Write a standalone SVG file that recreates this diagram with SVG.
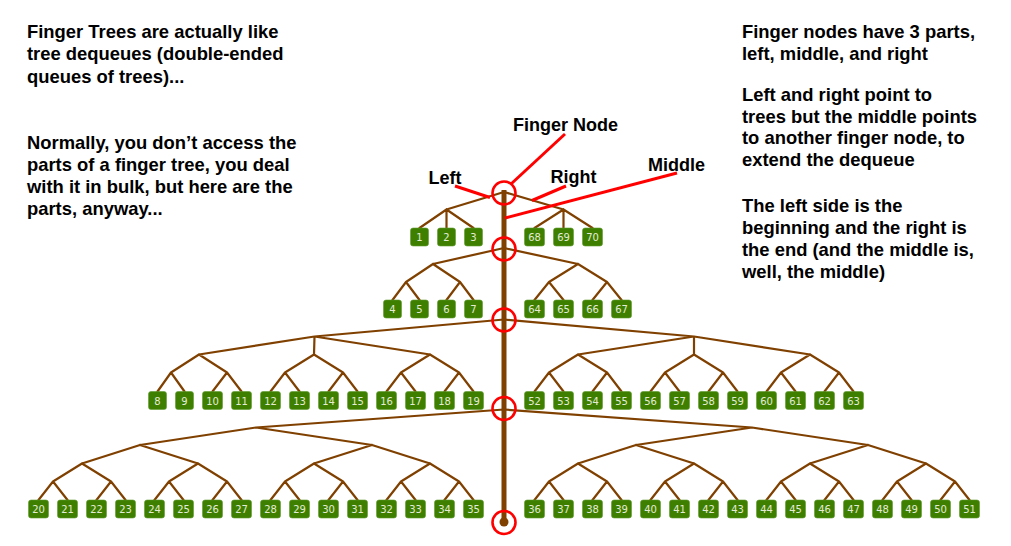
<svg xmlns="http://www.w3.org/2000/svg" width="1011" height="546" viewBox="0 0 1011 546">
<style>
.txt{font-family:"Liberation Sans",Arial,sans-serif;font-weight:bold;font-size:18.4px;fill:#000}
.lbl{font-family:"Liberation Sans",Arial,sans-serif;font-weight:bold;font-size:18px;fill:#000}
.edge{fill:none;stroke:#7f4000;stroke-width:2.2;stroke-linecap:round;stroke-linejoin:round}
.spine{stroke:#7f4000;stroke-width:5}
.leaf{fill:#3f7f00;stroke:#5f9a30;stroke-width:0.6}
.lt{font-family:"DejaVu Sans",sans-serif;font-size:10px;fill:#e4ecd8;text-anchor:middle}
.ring{fill:none;stroke:#ff0000;stroke-width:2.6}
.ptr{stroke:#ff0000;stroke-width:3;stroke-linecap:butt}
</style>
<rect width="1011" height="546" fill="#ffffff"/>

<g id="text-left">
<text class="txt" x="27" y="37.5">Finger Trees are actually like</text>
<text class="txt" x="27" y="60">tree dequeues (double-ended</text>
<text class="txt" x="27" y="82.5">queues of trees)...</text>
<text class="txt" x="27" y="149">Normally, you don’t access the</text>
<text class="txt" x="27" y="171">parts of a finger tree, you deal</text>
<text class="txt" x="27" y="193">with it in bulk, but here are the</text>
<text class="txt" x="27" y="215">parts, anyway...</text>
</g>
<g id="text-right">
<text class="txt" x="742" y="38">Finger nodes have 3 parts,</text>
<text class="txt" x="742" y="60">left, middle, and right</text>
<text class="txt" x="742" y="101">Left and right point to</text>
<text class="txt" x="742" y="122.5">trees but the middle points</text>
<text class="txt" x="742" y="144">to another finger node, to</text>
<text class="txt" x="742" y="165.5">extend the dequeue</text>
<text class="txt" x="742" y="211.5">The left side is the</text>
<text class="txt" x="742" y="233.5">beginning and the right is</text>
<text class="txt" x="742" y="255.5">the end (and the middle is,</text>
<text class="txt" x="742" y="277.5">well, the middle)</text>
</g>

<g id="connectors">
<line class="spine" x1="504" y1="190" x2="504" y2="522"/>
<circle cx="504" cy="522" r="4.5" fill="#7f4000"/>
<path class="edge" d="M504,192L446.5,209.5M504,192L563.5,209.5
M446.5,209.5L419.5,228M446.5,209.5L446.5,228M446.5,209.5L473.5,228
M563.5,209.5L534.5,228M563.5,209.5L563.5,228M563.5,209.5L592.5,228"/>
<path class="edge" d="M504,248L433,264M504,248L578,264
M433,264L406,282M433,264L460,282M406,282L392.5,300M406,282L419.5,300M460,282L446.5,300M460,282L473.5,300
M578,264L549,282M578,264L607,282M549,282L534.5,300M549,282L563.5,300M607,282L592.5,300M607,282L621.5,300"/>
<path class="edge" d="M504,319.5L314.5,336.5M504,319.5L694,336.5
M314.5,336.5L199,354.5M314.5,336.5L314,354.5M314.5,336.5L430,354.5
M199,354.5L171,372.5M199,354.5L227,372.5M314,354.5L285,372.5M314,354.5L343,372.5M430,354.5L401,372.5M430,354.5L459,372.5
M171,372.5L157.5,391.5M171,372.5L184.5,391.5M227,372.5L212.5,391.5M227,372.5L241.5,391.5
M285,372.5L270.5,391.5M285,372.5L299.5,391.5M343,372.5L328.5,391.5M343,372.5L357.5,391.5
M401,372.5L386.5,391.5M401,372.5L415.5,391.5M459,372.5L444.5,391.5M459,372.5L473.5,391.5
M694,336.5L578,354.5M694,336.5L694,354.5M694,336.5L810,354.5
M578,354.5L549,372.5M578,354.5L607,372.5M694,354.5L665,372.5M694,354.5L723,372.5M810,354.5L781,372.5M810,354.5L839,372.5
M549,372.5L534.5,391.5M549,372.5L563.5,391.5M607,372.5L592.5,391.5M607,372.5L621.5,391.5
M665,372.5L650.5,391.5M665,372.5L679.5,391.5M723,372.5L708.5,391.5M723,372.5L737.5,391.5
M781,372.5L766.5,391.5M781,372.5L795.5,391.5M839,372.5L824.5,391.5M839,372.5L853.5,391.5"/>
<path class="edge" d="M504,409.5L256,427.5M504,409.5L752,427.5
M256,427.5L140,445M256,427.5L372,445
M140,445L82,463.5M140,445L198,463.5M372,445L314,463.5M372,445L430,463.5
M82,463.5L53,481.5M82,463.5L111,481.5M198,463.5L169,481.5M198,463.5L227,481.5
M314,463.5L285,481.5M314,463.5L343,481.5M430,463.5L401,481.5M430,463.5L459,481.5
M53,481.5L38.5,500M53,481.5L67.5,500M111,481.5L96.5,500M111,481.5L125.5,500
M169,481.5L154.5,500M169,481.5L183.5,500M227,481.5L212.5,500M227,481.5L241.5,500
M285,481.5L270.5,500M285,481.5L299.5,500M343,481.5L328.5,500M343,481.5L357.5,500
M401,481.5L386.5,500M401,481.5L415.5,500M459,481.5L444.5,500M459,481.5L473.5,500
M752,427.5L636,445M752,427.5L868,445
M636,445L578,463.5M636,445L694,463.5M868,445L810,463.5M868,445L926,463.5
M578,463.5L549,481.5M578,463.5L607,481.5M694,463.5L665,481.5M694,463.5L723,481.5
M810,463.5L781,481.5M810,463.5L839,481.5M926,463.5L897,481.5M926,463.5L955,481.5
M549,481.5L534.5,500M549,481.5L563.5,500M607,481.5L592.5,500M607,481.5L621.5,500
M665,481.5L650.5,500M665,481.5L679.5,500M723,481.5L708.5,500M723,481.5L737.5,500
M781,481.5L766.5,500M781,481.5L795.5,500M839,481.5L824.5,500M839,481.5L853.5,500
M897,481.5L882.5,500M897,481.5L911.5,500M955,481.5L940.5,500M955,481.5L969.5,500"/>
</g>

<g id="leaves-1">
<g id="n1"><rect class="leaf" x="410.5" y="228" width="18" height="18" rx="2.5"/><text class="lt" x="419.5" y="241">1</text></g>
<g id="n2"><rect class="leaf" x="437.5" y="228" width="18" height="18" rx="2.5"/><text class="lt" x="446.5" y="241">2</text></g>
<g id="n3"><rect class="leaf" x="464.5" y="228" width="18" height="18" rx="2.5"/><text class="lt" x="473.5" y="241">3</text></g>
<g id="n68"><rect class="leaf" x="524.5" y="228" width="20" height="18" rx="2.5"/><text class="lt" x="534.5" y="241">68</text></g>
<g id="n69"><rect class="leaf" x="553.5" y="228" width="20" height="18" rx="2.5"/><text class="lt" x="563.5" y="241">69</text></g>
<g id="n70"><rect class="leaf" x="582.5" y="228" width="20" height="18" rx="2.5"/><text class="lt" x="592.5" y="241">70</text></g>
</g>
<g id="leaves-2">
<g id="n4"><rect class="leaf" x="383.5" y="300" width="18" height="18" rx="2.5"/><text class="lt" x="392.5" y="313">4</text></g>
<g id="n5"><rect class="leaf" x="410.5" y="300" width="18" height="18" rx="2.5"/><text class="lt" x="419.5" y="313">5</text></g>
<g id="n6"><rect class="leaf" x="437.5" y="300" width="18" height="18" rx="2.5"/><text class="lt" x="446.5" y="313">6</text></g>
<g id="n7"><rect class="leaf" x="464.5" y="300" width="18" height="18" rx="2.5"/><text class="lt" x="473.5" y="313">7</text></g>
<g id="n64"><rect class="leaf" x="524.5" y="300" width="20" height="18" rx="2.5"/><text class="lt" x="534.5" y="313">64</text></g>
<g id="n65"><rect class="leaf" x="553.5" y="300" width="20" height="18" rx="2.5"/><text class="lt" x="563.5" y="313">65</text></g>
<g id="n66"><rect class="leaf" x="582.5" y="300" width="20" height="18" rx="2.5"/><text class="lt" x="592.5" y="313">66</text></g>
<g id="n67"><rect class="leaf" x="611.5" y="300" width="20" height="18" rx="2.5"/><text class="lt" x="621.5" y="313">67</text></g>
</g>
<g id="leaves-3">
<g id="n8"><rect class="leaf" x="148.5" y="391.5" width="18" height="18" rx="2.5"/><text class="lt" x="157.5" y="404.5">8</text></g>
<g id="n9"><rect class="leaf" x="175.5" y="391.5" width="18" height="18" rx="2.5"/><text class="lt" x="184.5" y="404.5">9</text></g>
<g id="n10"><rect class="leaf" x="202.5" y="391.5" width="20" height="18" rx="2.5"/><text class="lt" x="212.5" y="404.5">10</text></g>
<g id="n11"><rect class="leaf" x="231.5" y="391.5" width="20" height="18" rx="2.5"/><text class="lt" x="241.5" y="404.5">11</text></g>
<g id="n12"><rect class="leaf" x="260.5" y="391.5" width="20" height="18" rx="2.5"/><text class="lt" x="270.5" y="404.5">12</text></g>
<g id="n13"><rect class="leaf" x="289.5" y="391.5" width="20" height="18" rx="2.5"/><text class="lt" x="299.5" y="404.5">13</text></g>
<g id="n14"><rect class="leaf" x="318.5" y="391.5" width="20" height="18" rx="2.5"/><text class="lt" x="328.5" y="404.5">14</text></g>
<g id="n15"><rect class="leaf" x="347.5" y="391.5" width="20" height="18" rx="2.5"/><text class="lt" x="357.5" y="404.5">15</text></g>
<g id="n16"><rect class="leaf" x="376.5" y="391.5" width="20" height="18" rx="2.5"/><text class="lt" x="386.5" y="404.5">16</text></g>
<g id="n17"><rect class="leaf" x="405.5" y="391.5" width="20" height="18" rx="2.5"/><text class="lt" x="415.5" y="404.5">17</text></g>
<g id="n18"><rect class="leaf" x="434.5" y="391.5" width="20" height="18" rx="2.5"/><text class="lt" x="444.5" y="404.5">18</text></g>
<g id="n19"><rect class="leaf" x="463.5" y="391.5" width="20" height="18" rx="2.5"/><text class="lt" x="473.5" y="404.5">19</text></g>
<g id="n52"><rect class="leaf" x="524.5" y="391.5" width="20" height="18" rx="2.5"/><text class="lt" x="534.5" y="404.5">52</text></g>
<g id="n53"><rect class="leaf" x="553.5" y="391.5" width="20" height="18" rx="2.5"/><text class="lt" x="563.5" y="404.5">53</text></g>
<g id="n54"><rect class="leaf" x="582.5" y="391.5" width="20" height="18" rx="2.5"/><text class="lt" x="592.5" y="404.5">54</text></g>
<g id="n55"><rect class="leaf" x="611.5" y="391.5" width="20" height="18" rx="2.5"/><text class="lt" x="621.5" y="404.5">55</text></g>
<g id="n56"><rect class="leaf" x="640.5" y="391.5" width="20" height="18" rx="2.5"/><text class="lt" x="650.5" y="404.5">56</text></g>
<g id="n57"><rect class="leaf" x="669.5" y="391.5" width="20" height="18" rx="2.5"/><text class="lt" x="679.5" y="404.5">57</text></g>
<g id="n58"><rect class="leaf" x="698.5" y="391.5" width="20" height="18" rx="2.5"/><text class="lt" x="708.5" y="404.5">58</text></g>
<g id="n59"><rect class="leaf" x="727.5" y="391.5" width="20" height="18" rx="2.5"/><text class="lt" x="737.5" y="404.5">59</text></g>
<g id="n60"><rect class="leaf" x="756.5" y="391.5" width="20" height="18" rx="2.5"/><text class="lt" x="766.5" y="404.5">60</text></g>
<g id="n61"><rect class="leaf" x="785.5" y="391.5" width="20" height="18" rx="2.5"/><text class="lt" x="795.5" y="404.5">61</text></g>
<g id="n62"><rect class="leaf" x="814.5" y="391.5" width="20" height="18" rx="2.5"/><text class="lt" x="824.5" y="404.5">62</text></g>
<g id="n63"><rect class="leaf" x="843.5" y="391.5" width="20" height="18" rx="2.5"/><text class="lt" x="853.5" y="404.5">63</text></g>
</g>
<g id="leaves-4">
<g id="n20"><rect class="leaf" x="28.5" y="500" width="20" height="18" rx="2.5"/><text class="lt" x="38.5" y="513">20</text></g>
<g id="n21"><rect class="leaf" x="57.5" y="500" width="20" height="18" rx="2.5"/><text class="lt" x="67.5" y="513">21</text></g>
<g id="n22"><rect class="leaf" x="86.5" y="500" width="20" height="18" rx="2.5"/><text class="lt" x="96.5" y="513">22</text></g>
<g id="n23"><rect class="leaf" x="115.5" y="500" width="20" height="18" rx="2.5"/><text class="lt" x="125.5" y="513">23</text></g>
<g id="n24"><rect class="leaf" x="144.5" y="500" width="20" height="18" rx="2.5"/><text class="lt" x="154.5" y="513">24</text></g>
<g id="n25"><rect class="leaf" x="173.5" y="500" width="20" height="18" rx="2.5"/><text class="lt" x="183.5" y="513">25</text></g>
<g id="n26"><rect class="leaf" x="202.5" y="500" width="20" height="18" rx="2.5"/><text class="lt" x="212.5" y="513">26</text></g>
<g id="n27"><rect class="leaf" x="231.5" y="500" width="20" height="18" rx="2.5"/><text class="lt" x="241.5" y="513">27</text></g>
<g id="n28"><rect class="leaf" x="260.5" y="500" width="20" height="18" rx="2.5"/><text class="lt" x="270.5" y="513">28</text></g>
<g id="n29"><rect class="leaf" x="289.5" y="500" width="20" height="18" rx="2.5"/><text class="lt" x="299.5" y="513">29</text></g>
<g id="n30"><rect class="leaf" x="318.5" y="500" width="20" height="18" rx="2.5"/><text class="lt" x="328.5" y="513">30</text></g>
<g id="n31"><rect class="leaf" x="347.5" y="500" width="20" height="18" rx="2.5"/><text class="lt" x="357.5" y="513">31</text></g>
<g id="n32"><rect class="leaf" x="376.5" y="500" width="20" height="18" rx="2.5"/><text class="lt" x="386.5" y="513">32</text></g>
<g id="n33"><rect class="leaf" x="405.5" y="500" width="20" height="18" rx="2.5"/><text class="lt" x="415.5" y="513">33</text></g>
<g id="n34"><rect class="leaf" x="434.5" y="500" width="20" height="18" rx="2.5"/><text class="lt" x="444.5" y="513">34</text></g>
<g id="n35"><rect class="leaf" x="463.5" y="500" width="20" height="18" rx="2.5"/><text class="lt" x="473.5" y="513">35</text></g>
<g id="n36"><rect class="leaf" x="524.5" y="500" width="20" height="18" rx="2.5"/><text class="lt" x="534.5" y="513">36</text></g>
<g id="n37"><rect class="leaf" x="553.5" y="500" width="20" height="18" rx="2.5"/><text class="lt" x="563.5" y="513">37</text></g>
<g id="n38"><rect class="leaf" x="582.5" y="500" width="20" height="18" rx="2.5"/><text class="lt" x="592.5" y="513">38</text></g>
<g id="n39"><rect class="leaf" x="611.5" y="500" width="20" height="18" rx="2.5"/><text class="lt" x="621.5" y="513">39</text></g>
<g id="n40"><rect class="leaf" x="640.5" y="500" width="20" height="18" rx="2.5"/><text class="lt" x="650.5" y="513">40</text></g>
<g id="n41"><rect class="leaf" x="669.5" y="500" width="20" height="18" rx="2.5"/><text class="lt" x="679.5" y="513">41</text></g>
<g id="n42"><rect class="leaf" x="698.5" y="500" width="20" height="18" rx="2.5"/><text class="lt" x="708.5" y="513">42</text></g>
<g id="n43"><rect class="leaf" x="727.5" y="500" width="20" height="18" rx="2.5"/><text class="lt" x="737.5" y="513">43</text></g>
<g id="n44"><rect class="leaf" x="756.5" y="500" width="20" height="18" rx="2.5"/><text class="lt" x="766.5" y="513">44</text></g>
<g id="n45"><rect class="leaf" x="785.5" y="500" width="20" height="18" rx="2.5"/><text class="lt" x="795.5" y="513">45</text></g>
<g id="n46"><rect class="leaf" x="814.5" y="500" width="20" height="18" rx="2.5"/><text class="lt" x="824.5" y="513">46</text></g>
<g id="n47"><rect class="leaf" x="843.5" y="500" width="20" height="18" rx="2.5"/><text class="lt" x="853.5" y="513">47</text></g>
<g id="n48"><rect class="leaf" x="872.5" y="500" width="20" height="18" rx="2.5"/><text class="lt" x="882.5" y="513">48</text></g>
<g id="n49"><rect class="leaf" x="901.5" y="500" width="20" height="18" rx="2.5"/><text class="lt" x="911.5" y="513">49</text></g>
<g id="n50"><rect class="leaf" x="930.5" y="500" width="20" height="18" rx="2.5"/><text class="lt" x="940.5" y="513">50</text></g>
<g id="n51"><rect class="leaf" x="959.5" y="500" width="20" height="18" rx="2.5"/><text class="lt" x="969.5" y="513">51</text></g>
</g>

<g id="finger-nodes">
<circle class="ring" cx="504" cy="193" r="11.5"/>
<circle class="ring" cx="504" cy="249" r="11.5"/>
<circle class="ring" cx="504" cy="320" r="11.5"/>
<circle class="ring" cx="504" cy="408.5" r="11.5"/>
<circle class="ring" cx="504" cy="522.5" r="11.5"/>
</g>

<g id="annotations">
<line class="ptr" x1="565" y1="134" x2="511" y2="184"/>
<line class="ptr" x1="455" y1="186" x2="490" y2="197.5"/>
<line class="ptr" x1="566" y1="186" x2="532" y2="200.5"/>
<line class="ptr" x1="677" y1="173" x2="505" y2="218"/>
<text class="lbl" x="513" y="131">Finger Node</text>
<text class="lbl" x="428.5" y="184">Left</text>
<text class="lbl" x="550.5" y="183">Right</text>
<text class="lbl" x="648" y="171">Middle</text>
</g>
</svg>
